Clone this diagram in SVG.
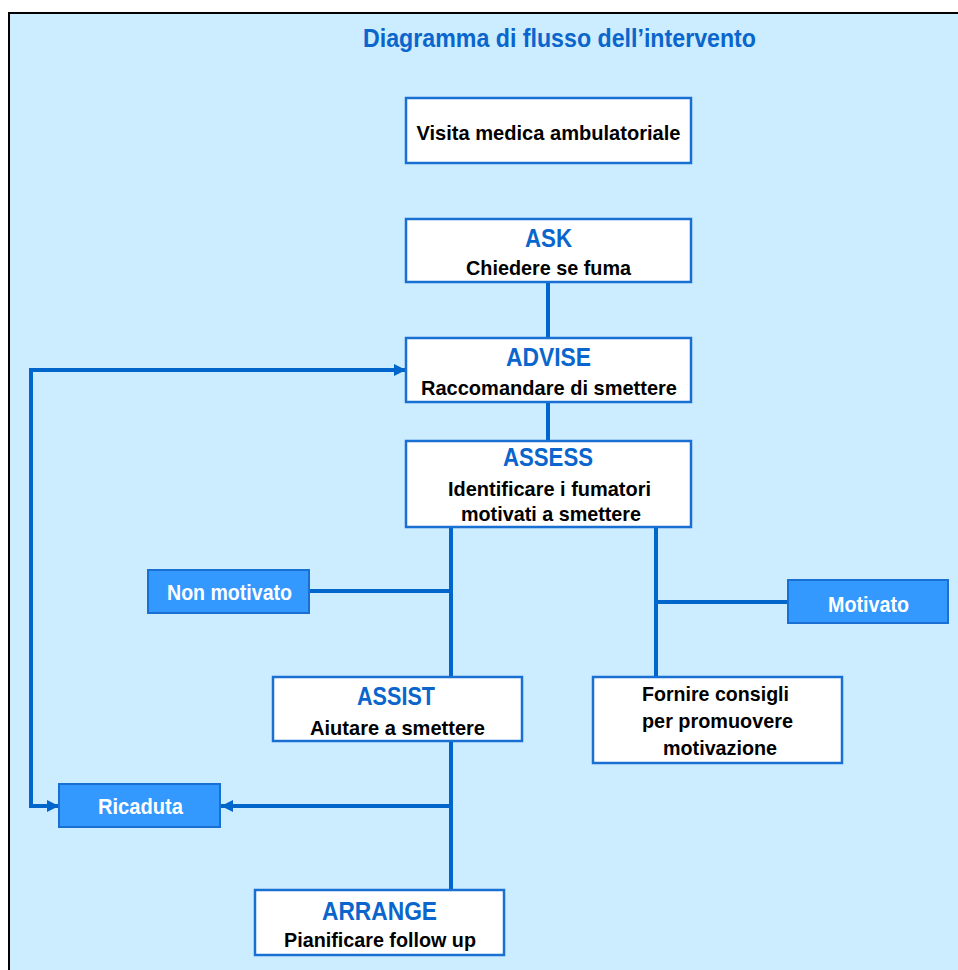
<svg xmlns="http://www.w3.org/2000/svg" width="958" height="970" viewBox="0 0 958 970">
<defs>
<style>
.bg{fill:#CCECFF}
.box{fill:#FFFFFF;stroke:#1A70D2;stroke-width:2.5}
.bbox{fill:#3399FF;stroke:#1A70D2;stroke-width:2}
.t{font-family:"Liberation Sans",Arial,sans-serif;font-weight:bold;text-anchor:middle}
.h{fill:#0A66CC;font-size:26px}
.b{fill:#000000;font-size:21px}
.w{fill:#FFFFFF;font-size:22px}
.c{fill:none;stroke:#0066CC;stroke-width:4}
</style>
<marker id="ah" viewBox="0 0 10 10" refX="10" refY="5" markerWidth="3" markerHeight="3" orient="auto-start-reverse" markerUnits="strokeWidth">
<path d="M0,0 L10,5 L0,10 z" fill="#0066CC"/>
</marker>
</defs>
<rect x="0" y="0" width="958" height="970" fill="#FFFFFF"/>
<rect class="bg" x="9" y="13" width="949" height="957"/>
<path d="M9,970 L9,13 L958,13" fill="none" stroke="#000" stroke-width="2"/>
<text class="t" x="559.5" y="47" fill="#0A66CC" font-size="26" textLength="393" lengthAdjust="spacingAndGlyphs">Diagramma di flusso dell’intervento</text>

<g id="connectors">
<path class="c" d="M548,282 L548,338"/>
<path class="c" d="M548,402 L548,441"/>
<path class="c" d="M451,527 L451,677"/>
<path class="c" d="M309,591 L451,591"/>
<path class="c" d="M656,527 L656,677"/>
<path class="c" d="M656,602 L788,602"/>
<path class="c" d="M451,741 L451,890"/>
<path class="c" d="M451,806 L221,806" marker-end="url(#ah)"/>
<path class="c" d="M59,806 L31,806 L31,370 L406,370" marker-start="url(#ah)" marker-end="url(#ah)"/>
</g>

<g id="visita">
<rect class="box" x="406" y="98" width="285" height="65"/>
<text class="t b" x="548.5" y="140" font-size="23" textLength="264" lengthAdjust="spacingAndGlyphs">Visita medica ambulatoriale</text>
</g>
<g id="ask">
<rect class="box" x="406" y="219" width="285" height="63"/>
<text class="t h" x="548.5" y="247" textLength="47" lengthAdjust="spacingAndGlyphs">ASK</text>
<text class="t b" x="548.5" y="275" textLength="165" lengthAdjust="spacingAndGlyphs">Chiedere se fuma</text>
</g>
<g id="advise">
<rect class="box" x="406" y="338" width="285" height="64"/>
<text class="t h" x="548.5" y="366" textLength="85" lengthAdjust="spacingAndGlyphs">ADVISE</text>
<text class="t b" x="549" y="395" textLength="256" lengthAdjust="spacingAndGlyphs">Raccomandare di smettere</text>
</g>
<g id="assess">
<rect class="box" x="406" y="441" width="285" height="86"/>
<text class="t h" x="548" y="466" textLength="90" lengthAdjust="spacingAndGlyphs">ASSESS</text>
<text class="t b" x="549.5" y="496" textLength="203" lengthAdjust="spacingAndGlyphs">Identificare i fumatori</text>
<text class="t b" x="551" y="521" textLength="180" lengthAdjust="spacingAndGlyphs">motivati a smettere</text>
</g>
<g id="nonmotivato">
<rect class="bbox" x="148" y="570" width="161" height="43"/>
<text class="t w" x="229.5" y="600" textLength="125" lengthAdjust="spacingAndGlyphs">Non motivato</text>
</g>
<g id="motivato">
<rect class="bbox" x="788" y="580" width="160" height="43"/>
<text class="t w" x="868.5" y="612" textLength="81" lengthAdjust="spacingAndGlyphs">Motivato</text>
</g>
<g id="assist">
<rect class="box" x="273" y="677" width="249" height="64"/>
<text class="t h" x="396" y="705" textLength="78" lengthAdjust="spacingAndGlyphs">ASSIST</text>
<text class="t b" x="397.5" y="735" textLength="175" lengthAdjust="spacingAndGlyphs">Aiutare a smettere</text>
</g>
<g id="fornire">
<rect class="box" x="593" y="677" width="249" height="86"/>
<text class="t b" x="715.5" y="701" textLength="147" lengthAdjust="spacingAndGlyphs">Fornire consigli</text>
<text class="t b" x="717.5" y="728" textLength="151" lengthAdjust="spacingAndGlyphs">per promuovere</text>
<text class="t b" x="720" y="755" textLength="114" lengthAdjust="spacingAndGlyphs">motivazione</text>
</g>
<g id="ricaduta">
<rect class="bbox" x="59" y="784" width="161" height="43"/>
<text class="t w" x="140.5" y="814" textLength="85" lengthAdjust="spacingAndGlyphs">Ricaduta</text>
</g>
<g id="arrange">
<rect class="box" x="255" y="890" width="249" height="65"/>
<text class="t h" x="379.5" y="920" textLength="115" lengthAdjust="spacingAndGlyphs">ARRANGE</text>
<text class="t b" x="380" y="947" textLength="192" lengthAdjust="spacingAndGlyphs">Pianificare follow up</text>
</g>
</svg>
